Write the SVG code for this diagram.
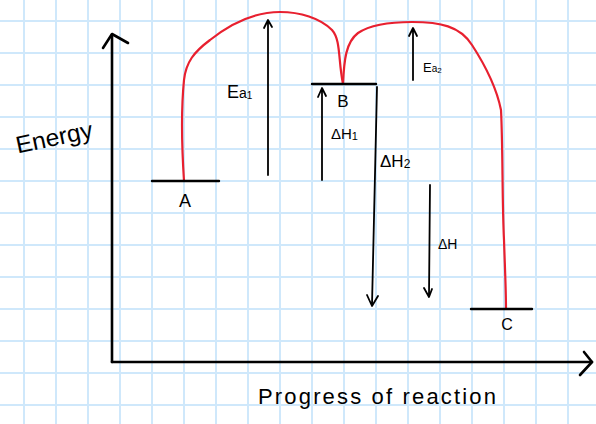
<svg xmlns="http://www.w3.org/2000/svg" width="596" height="424" viewBox="0 0 596 424">
<defs>
<pattern id="grid" x="0" y="0" width="32" height="32" patternUnits="userSpaceOnUse">
<rect x="23" y="0" width="2" height="32" fill="#cfe8fb"/>
<rect x="0" y="20" width="32" height="2" fill="#cfe8fb"/>
</pattern>
<style>
.ax{stroke:#000;stroke-width:2.6;fill:none;stroke-linecap:round;stroke-linejoin:round}
.ar{stroke:#000;stroke-width:1.8;fill:none;stroke-linecap:round;stroke-linejoin:round}
.lvl{stroke:#000;stroke-width:2.4;fill:none;stroke-linecap:round}
.rc{stroke:#e8202f;stroke-width:2.2;fill:none;stroke-linecap:round;stroke-linejoin:round}
text{font-family:"Liberation Sans","DejaVu Sans",sans-serif;fill:#000}
</style>
</defs>
<rect width="596" height="424" fill="#fff"/>
<rect width="596" height="424" fill="url(#grid)"/>
<g id="axes">
<path class="ax" d="M112,362 L112,35"/>
<path class="ax" d="M103,48 L112,34 L128,43"/>
<path class="ax" d="M112,362 L592,362"/>
<path class="ax" d="M584,352 L592,362 L580,375"/>
<text x="14" y="146" font-size="24" textLength="78" lengthAdjust="spacingAndGlyphs" transform="rotate(-12 52 132)">Energy</text>
<text x="258" y="404" font-size="22" textLength="238" lengthAdjust="spacing">Progress of reaction</text>
</g>
<g id="connectors">
<path class="rc" d="M184,181 C182,150 181,110 184,80 C186,62 194,52 210,40 C235,20 260,12 280,12 C300,12 320,18 332,30 C341,40 338,60 343,84"/>
<path class="rc" d="M343,84 C344,60 346,42 358,33 C370,25 390,22 412,22 C440,22 460,26 472,45 C485,65 497,90 501,110 C503,150 502,200 504,240 C505,270 506,290 506,309"/>
<path class="ar" d="M268,175 L268,21 M264,28 L268,20 L272,27"/>
<path class="ar" d="M322,180 L322,89 M318,97 L322,88 L326,96"/>
<path class="ar" d="M413,80 L413,29 M409,36 L413,28 L417,36"/>
<path class="ar" d="M377,87 L372,305 M367,295 L372,306 L378,296"/>
<path class="ar" d="M430,185 L429,296 M424,288 L429,297 L432,289"/>
</g>
<g id="A">
<path class="lvl" d="M152,181 L219,181"/>
<text x="185" y="207" font-size="18" text-anchor="middle">A</text>
</g>
<g id="B">
<path class="lvl" d="M312,84 L376,84"/>
<text x="343" y="107" font-size="17" text-anchor="middle">B</text>
</g>
<g id="C">
<path class="lvl" d="M471,309 L532,309"/>
<text x="507" y="330" font-size="16" text-anchor="middle">C</text>
</g>
<g id="labels">
<text x="227" y="98" font-size="18">E<tspan font-size="14">a</tspan><tspan font-size="10" dy="1">1</tspan></text>
<text x="423" y="72" font-size="13">E<tspan font-size="10">a</tspan><tspan font-size="8" dy="1">2</tspan></text>
<text x="331" y="139" font-size="15">ΔH<tspan font-size="11" dy="1">1</tspan></text>
<text x="380" y="167" font-size="17">ΔH<tspan font-size="12" dy="1">2</tspan></text>
<text x="438" y="249" font-size="14">ΔH</text>
</g>
</svg>
